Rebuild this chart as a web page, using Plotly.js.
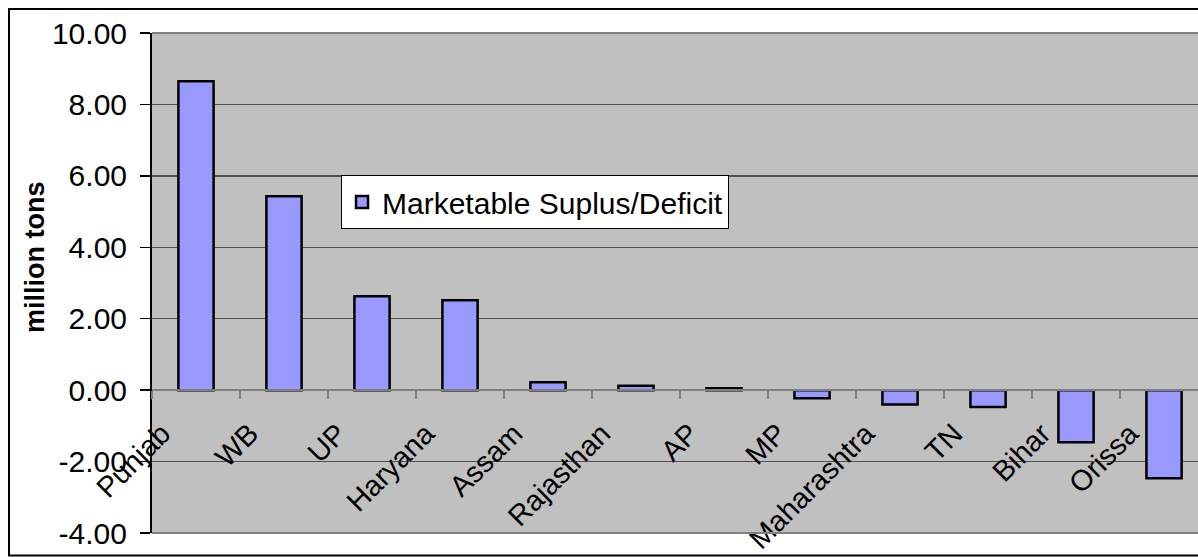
<!DOCTYPE html>
<html>
<head>
<meta charset="utf-8">
<script src="https://cdn.plot.ly/plotly-3.0.1.min.js"></script>
<style>
html,body{margin:0;padding:0;background:#fff;overflow:hidden;}
#chart{width:1198px;height:557px;}
</style>
</head>
<body>
<div id="chart"></div>
<script>
const states = ["Punjab","WB","UP","Haryana","Assam","Rajasthan","AP","MP","Maharashtra","TN","Bihar","Orissa"];
const surplus = [8.65, 5.43, 2.63, 2.52, 0.22, 0.12, 0.05, -0.23, -0.40, -0.47, -1.46, -2.47];
const seriesName = "Marketable Suplus/Deficit";
const yTitle = "million tons";
const yTickVals = [-4, -2, 0, 2, 4, 6, 8, 10];
const yTickText = ["-4.00", "-2.00", "0.00", "2.00", "4.00", "6.00", "8.00", "10.00"];

const trace = {
  type: "bar",
  x: states,
  y: surplus,
  name: seriesName,
  width: 0.4,
  marker: {color: "#9999FF", line: {color: "#000000", width: 2.5}},
  showlegend: true
};

const layout = {
  width: 1198,
  height: 557,
  margin: {l: 152, r: 0, t: 33, b: 24, pad: 0},
  paper_bgcolor: "#ffffff",
  plot_bgcolor: "#C0C0C0",
  font: {family: "Liberation Sans, Arial, sans-serif", color: "#000000"},
  showlegend: true,
  legend: {
    x: 0.1807, y: 0.716, xanchor: "left", yanchor: "top",
    bgcolor: "#ffffff", bordercolor: "#000000", borderwidth: 1,
    font: {size: 30, color: "#000000"},
    tracegroupgap: 0
  },
  xaxis: {
    type: "category",
    categoryorder: "array",
    categoryarray: states,
    range: [-0.5, 11.386],
    anchor: "free",
    position: 4/14,
    showline: true, linecolor: "#808080", linewidth: 2,
    showgrid: false, zeroline: false,
    ticks: "outside", tickson: "boundaries", ticklen: 8, tickwidth: 1.5, tickcolor: "#808080",
    tickangle: -45,
    tickfont: {size: 29, color: "#000000"},
    ticklabelstandoff: 14,
    ticklabelshift: -34,
    automargin: false
  },
  yaxis: {
    range: [-4, 10],
    tickmode: "array",
    tickvals: yTickVals,
    ticktext: yTickText,
    showgrid: true, gridcolor: "#505050", gridwidth: 1.5,
    zeroline: false,
    showline: true, linecolor: "#000000", linewidth: 2,
    ticks: "outside", ticklen: 10, tickwidth: 1.5, tickcolor: "#000000",
    tickfont: {size: 30, color: "#000000"},
    ticklabelstandoff: 7,
    automargin: false
  },
  annotations: [
    {text: "<b>" + yTitle + "</b>", xref: "paper", yref: "paper", x: -0.1119, y: 0.552,
     xanchor: "center", yanchor: "middle", textangle: -90, showarrow: false,
     font: {size: 27, color: "#000000", family: "Liberation Sans, Arial, sans-serif"}}
  ],
  shapes: [
    {type: "line", xref: "paper", yref: "paper", x0: 0, x1: 1.01, y0: 1, y1: 1, line: {color: "#808080", width: 2}},
    {type: "line", xref: "paper", yref: "paper", x0: 0, x1: 1.01, y0: 0, y1: 0, line: {color: "#808080", width: 2}},
    {type: "rect", xref: "paper", yref: "paper", x0: -0.1367, x1: 1.05, y0: -0.045, y1: 1.048, line: {color: "#000000", width: 2}, fillcolor: "rgba(0,0,0,0)", layer: "above"}
  ]
};

Plotly.newPlot("chart", [trace], layout, {displayModeBar: false, staticPlot: true});
</script>
</body>
</html>
